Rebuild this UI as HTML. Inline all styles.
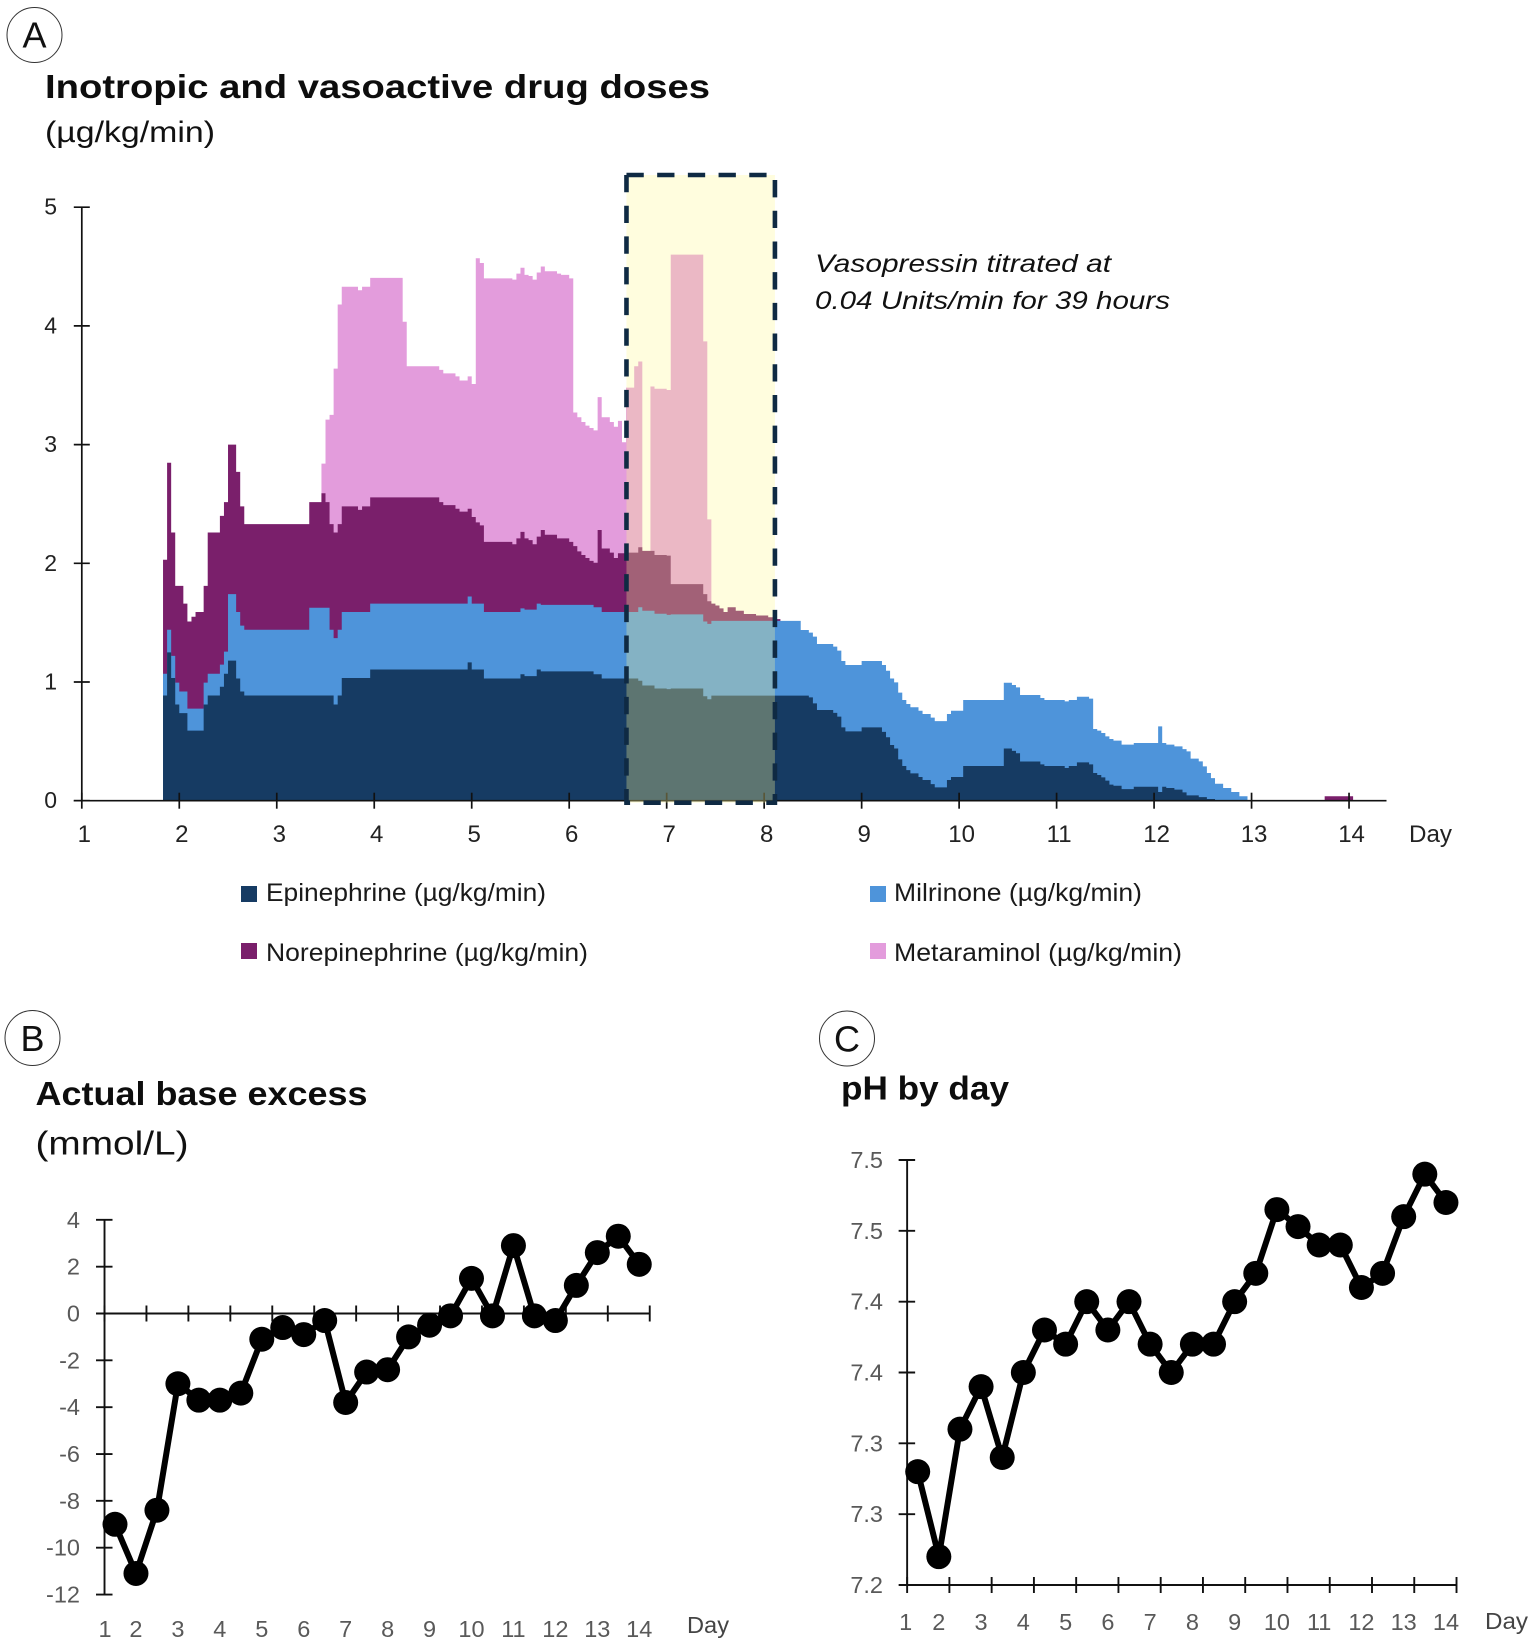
<!DOCTYPE html>
<html lang="en">
<head>
<meta charset="utf-8">
<title>Inotropic and vasoactive drug doses, base excess and pH by day</title>
<style>
  html, body { margin: 0; padding: 0; background: #ffffff; }
  svg { display: block; font-family: "Liberation Sans", sans-serif; }
  .panel-letter { font-size: 36px; fill: #111; text-anchor: middle; }
  .panel-circle { fill: none; stroke: #333; stroke-width: 1; }
  .title { font-size: 33px; font-weight: bold; fill: #0d0d0d; }
  .subtitle { font-size: 30px; fill: #111; }
  .legend-text { font-size: 25px; fill: #1a1a1a; }
  .note { font-size: 25px; font-style: italic; fill: #111; }
  .day { font-size: 24px; fill: #222; }
  .day-grey { font-size: 23px; fill: #444; }
</style>
</head>
<body>
<svg id="figure" xmlns="http://www.w3.org/2000/svg" width="1535" height="1644" viewBox="0 0 1535 1644">
  <g>
    <circle class="panel-circle" cx="34.5" cy="35" r="27.5"></circle>
    <text class="panel-letter" x="34.5" y="47.5">A</text>
    <text class="title" x="45" y="98" textLength="665" lengthAdjust="spacingAndGlyphs">Inotropic and vasoactive drug doses</text>
    <text class="subtitle" x="45" y="142" textLength="170" lengthAdjust="spacingAndGlyphs">(µg/kg/min)</text>
  </g>
  <g id="chart-a"></g>
  <g>
    <text class="note" x="815" y="272" textLength="296" lengthAdjust="spacingAndGlyphs">Vasopressin titrated at</text>
    <text class="note" x="815" y="309" textLength="355" lengthAdjust="spacingAndGlyphs">0.04 Units/min for 39 hours</text>
  </g>
  <text class="day" x="1409" y="842" textLength="43" lengthAdjust="spacingAndGlyphs">Day</text>
  <g>
    <g>
      <rect x="241" y="886" width="16" height="16" fill="#163b63"></rect>
      <text class="legend-text" x="266" y="901" textLength="280" lengthAdjust="spacingAndGlyphs">Epinephrine (µg/kg/min)</text>
    </g>
    <g>
      <rect x="241" y="943" width="16" height="16" fill="#7a1f6b"></rect>
      <text class="legend-text" x="266" y="961" textLength="322" lengthAdjust="spacingAndGlyphs">Norepinephrine (µg/kg/min)</text>
    </g>
    <g>
      <rect x="870" y="886" width="16" height="16" fill="#4e94da"></rect>
      <text class="legend-text" x="894" y="901" textLength="248" lengthAdjust="spacingAndGlyphs">Milrinone (µg/kg/min)</text>
    </g>
    <g>
      <rect x="870" y="943" width="16" height="16" fill="#e39cdc"></rect>
      <text class="legend-text" x="894" y="961" textLength="288" lengthAdjust="spacingAndGlyphs">Metaraminol (µg/kg/min)</text>
    </g>
  </g>

  <g>
    <circle class="panel-circle" cx="32.5" cy="1038" r="27.5"></circle>
    <text class="panel-letter" x="32.5" y="1051">B</text>
    <text class="title" x="35.5" y="1105" textLength="332" lengthAdjust="spacingAndGlyphs">Actual base excess</text>
    <text class="subtitle" x="35.5" y="1154.5" textLength="153" lengthAdjust="spacingAndGlyphs" style="font-size:33px">(mmol/L)</text>
  </g>
  <g id="chart-b"></g>
  <text class="day-grey" x="687" y="1633" textLength="42" lengthAdjust="spacingAndGlyphs">Day</text>

  <g>
    <circle class="panel-circle" cx="847" cy="1038.5" r="27.5"></circle>
    <text class="panel-letter" x="847" y="1051.5">C</text>
    <text class="title" x="841" y="1099.5" textLength="168" lengthAdjust="spacingAndGlyphs">pH by day</text>
  </g>
  <g id="chart-c"></g>
  <text class="day-grey" x="1485" y="1629" textLength="43" lengthAdjust="spacingAndGlyphs">Day</text>
</svg>

<script>
// ---- Panel A data: step series. Hours are counted from the start of day 2.
// Each "...Top" value is the height of that drug's upper edge in the stack (µg/kg/min);
// each step lasts until the next hour in the list.
const epinephrineHours = [-4,-3,-2,-1,0,2,6,7,10,11,12,14,15,16,38,39,40,47,71,72,75,84,85,88,89,102,104,113,114,117,120,121,129,130,131,155,156,157,161,162,163,164,168,173,174,175,176,177,178,179,180,182,183,185,186,189,190,193,203,205,206,207,212,213,218,219,221,224,225,226,227,228,229,230,232,235,241,242,243,245,247,248,251,253,255];
const epinephrineTop = [.886,1.25,1.034,.81,.738,.59,.81,.886,.96,1.07,1.18,1.03,.92,.886,.81,.886,1.034,1.105,1.165,1.105,1.03,1.065,1.05,1.105,1.09,1.065,1.03,1.01,.97,.945,.94,.945,.88,.855,.885,.87,.82,.764,.74,.708,.618,.584,.618,.58,.534,.469,.44,.348,.292,.258,.23,.2,.174,.14,.112,.174,.2,.292,.44,.42,.4,.33,.306,.292,.275,.292,.323,.306,.233,.216,.197,.169,.135,.126,.098,.118,.073,.118,.107,.093,.07,.045,.03,.014,0];

const milrinoneHours = [-4,-3,-2,-1,0,2,6,7,10,11,12,14,15,16,32,37,38,39,40,47,71,72,75,84,85,88,89,102,104,113,114,117,120,121,129,130,131,153,155,156,157,161,162,163,164,168,173,174,175,176,177,178,179,180,182,183,185,186,189,190,193,203,205,206,207,212,213,218,219,221,224,225,226,227,228,229,230,232,235,241,242,243,245,247,248,249,251,252,253,254,255,257,259,261,263];
const milrinoneTop = [1.07,1.44,1.22,.995,.92,.776,.995,1.07,1.146,1.256,1.74,1.59,1.475,1.44,1.626,1.44,1.37,1.44,1.59,1.66,1.72,1.66,1.59,1.62,1.61,1.66,1.65,1.63,1.59,1.63,1.6,1.575,1.565,1.57,1.51,1.49,1.515,1.438,1.416,1.382,1.32,1.298,1.264,1.177,1.143,1.177,1.143,1.095,1.03,.997,.91,.848,.815,.787,.758,.73,.7,.67,.73,.758,.848,.994,.975,.955,.89,.865,.848,.837,.848,.876,.86,.604,.59,.57,.542,.52,.506,.472,.486,.626,.486,.472,.458,.435,.416,.354,.331,.289,.233,.19,.143,.107,.073,.037,0];

const norepinephrineHours = [-4,-3,-2,-1,1,2,3,4,6,7,10,11,12,14,15,16,32,35,36,37,38,39,40,44,45,47,64,65,68,69,71,72,73,74,75,82,83,84,85,86,87,88,89,90,93,96,97,98,99,100,101,102,103,104,106,107,108,110,113,114,117,120,121,129,130,131,132,133,134,135,137,139,142,145,147,148,282,289];
const norepinephrineTop = [2.03,2.847,2.26,1.81,1.66,1.51,1.55,1.59,1.81,2.26,2.4,2.515,3,2.77,2.48,2.33,2.515,2.59,2.515,2.33,2.26,2.33,2.48,2.45,2.48,2.555,2.515,2.49,2.46,2.435,2.46,2.39,2.345,2.32,2.18,2.16,2.21,2.265,2.21,2.195,2.16,2.225,2.28,2.24,2.21,2.18,2.145,2.1,2.07,2.045,2.02,2.005,2.28,2.125,2.09,2.045,2.085,2.09,2.135,2.105,2.07,2.065,1.825,1.74,1.68,1.66,1.645,1.62,1.59,1.63,1.6,1.573,1.56,1.545,1.53,0,.037,0];

const metaraminolHours = [35,36,37,38,39,40,44,45,47,55,56,64,65,68,69,71,72,73,74,75,82,83,84,85,86,87,88,89,90,93,94,96,97,98,99,100,101,102,103,104,106,107,108,109,110,112,113,114,116,117,120,121,129,130,131];
const metaraminolTop = [2.84,3.21,3.25,3.64,4.18,4.33,4.3,4.33,4.405,4.035,3.66,3.63,3.6,3.575,3.54,3.575,3.51,4.57,4.53,4.4,4.39,4.44,4.49,4.43,4.42,4.39,4.45,4.5,4.46,4.44,4.43,4.4,3.27,3.23,3.19,3.16,3.14,3.12,3.4,3.23,3.19,3.15,3.2,3.02,3.48,3.66,3.7,0,3.49,3.47,3.46,4.6,3.87,2.37,0];

const doseTicks = [0,1,2,3,4,5];
const doseDays = [1,2,3,4,5,6,7,8,9,10,11,12,13,14];
const highlightHours = [110.1,146.65];

// ---- Panel B data
const baseExcessValues = [-9,-11.1,-8.4,-3,-3.7,-3.7,-3.4,-1.1,-.6,-.9,-.3,-3.8,-2.5,-2.4,-1,-.5,-.1,1.5,-.1,2.9,-.1,-.3,1.2,2.6,3.3,2.1];
const baseExcessTicks = [4,2,0,-2,-4,-6,-8,-10,-12];

// ---- Panel C data
const phValues = [7.28,7.22,7.31,7.34,7.29,7.35,7.38,7.37,7.4,7.38,7.4,7.37,7.35,7.37,7.37,7.4,7.42,7.465,7.453,7.44,7.44,7.41,7.42,7.46,7.49,7.47];
const phTicks = [7.2,7.25,7.3,7.35,7.4,7.45,7.5];
const phTickLabels = ["7.2","7.3","7.3","7.4","7.4","7.5","7.5"];

// ---- Shared day labels for B and C: category slot under which each day is printed
const lineDayLabels = ["2","3","4","5","6","7","8","9","10","11","12","13","14"];
const lineDaySlots = [1,3,5,7,9,11,13,15,17,19,21,23,25];

const SVG_NS = 'http://www.w3.org/2000/svg';
function make(parent, tag, attrs, text) {
  const el = document.createElementNS(SVG_NS, tag);
  for (const key in attrs) el.setAttribute(key, attrs[key]);
  if (text !== undefined) el.textContent = text;
  parent.appendChild(el);
  return el;
}

// ---- Panel A axes
const chartA = document.getElementById('chart-a');
const dayToX = d => 81.8 + (d - 1) * 97.48;
const hourToX = h => dayToX(2 + h / 24);
const doseToY = v => 800.7 - v * 118.7;

function stepPath(hours, tops) {
  let d = 'M' + hourToX(hours[0]).toFixed(2) + ' ' + doseToY(0).toFixed(2);
  for (let i = 0; i < hours.length - 1; i++) {
    const y = doseToY(tops[i]).toFixed(2);
    d += 'L' + hourToX(hours[i]).toFixed(2) + ' ' + y;
    d += 'L' + hourToX(hours[i + 1]).toFixed(2) + ' ' + y;
  }
  d += 'L' + hourToX(hours[hours.length - 1]).toFixed(2) + ' ' + doseToY(0).toFixed(2) + 'Z';
  return d;
}

const areaMet = make(chartA, 'path', { d: stepPath(metaraminolHours, metaraminolTop), fill: '#e39cdc' });


const areaNor = make(chartA, 'path', { d: stepPath(norepinephrineHours, norepinephrineTop), fill: '#7a1f6b' });


const areaMil = make(chartA, 'path', { d: stepPath(milrinoneHours, milrinoneTop), fill: '#4e94da' });


const areaEpi = make(chartA, 'path', { d: stepPath(epinephrineHours, epinephrineTop), fill: '#163b63' });



const yAxisA = make(chartA, 'line', { x1: dayToX(1), x2: dayToX(1), y1: doseToY(5), y2: doseToY(0), stroke: '#111', 'stroke-width': 1.7 });


const xAxisA = make(chartA, 'line', { x1: dayToX(1) - 8, x2: 1386.5, y1: doseToY(0), y2: doseToY(0), stroke: '#111', 'stroke-width': 1.7 });



doseTicks.forEach(v => {
  const tick = make(chartA, 'line', { x1: dayToX(1) - 8, x2: dayToX(1) + 8, y1: doseToY(v), y2: doseToY(v), stroke: '#111', 'stroke-width': 1.7 });
  
  
  const label = make(chartA, 'text', { x: 57, y: doseToY(v) + 7.5, 'text-anchor': 'end', 'font-size': 23, fill: '#222' }, String(v));
  
  
});
doseDays.forEach(d => {
  const tick = make(chartA, 'line', { x1: dayToX(d), x2: dayToX(d), y1: doseToY(0) - 8, y2: doseToY(0) + 8, stroke: '#111', 'stroke-width': 1.7 });
  
  
  const label = make(chartA, 'text', { x: dayToX(d) + 2.5, y: 842, 'text-anchor': 'middle', 'font-size': 24, fill: '#222' }, String(d));
  
  
});

const hlX1 = hourToX(highlightHours[0]);
const hlX2 = hourToX(highlightHours[1]);
const hlFill = make(chartA, 'rect', { x: hlX1, y: 175, width: hlX2 - hlX1, height: 627.7, fill: 'rgb(255,248,148)', 'fill-opacity': 0.305 });


const hlBorder = make(chartA, 'rect', { x: hlX1, y: 175, width: hlX2 - hlX1, height: 627.7, fill: 'none', stroke: '#0f2a43', 'stroke-width': 4.6, 'stroke-dasharray': '17.3 13.4' });



// ---- Line charts B and C
function drawLine(host, prefix, values, xOfSlot, yOf, axisY, firstLabelX, labelBaseline, axisX, yTop, yBottom, yTicks, yLabels, yLabelX) {
  const yAxis = make(host, 'line', { x1: axisX, x2: axisX, y1: yTop, y2: yBottom, stroke: '#111', 'stroke-width': 1.9 });
  
  
  const xAxis = make(host, 'line', { x1: axisX - 8, x2: xOfSlot(values.length - 0.5), y1: axisY, y2: axisY, stroke: '#111', 'stroke-width': 1.9 });
  
  

  yTicks.forEach((t, i) => {
    const y = yOf(t);
    const tick = make(host, 'line', { x1: axisX - 8.5, x2: axisX + 8, y1: y, y2: y, stroke: '#111', 'stroke-width': 1.9 });
    
    
    const label = make(host, 'text', { x: yLabelX, y: y + 8, 'text-anchor': 'end', 'font-size': 23.5, fill: '#595959' }, yLabels[i]);
    
    
  });
  for (let s = -0.5; s <= values.length - 0.5; s += 2) {
    const x = xOfSlot(s);
    const tick = make(host, 'line', { x1: x, x2: x, y1: axisY - 8, y2: axisY + 8, stroke: '#111', 'stroke-width': 1.9 });
    
    
  }
  const firstLabel = make(host, 'text', { x: firstLabelX, y: labelBaseline, 'text-anchor': 'middle', 'font-size': 23.5, fill: '#595959' }, '1');
  
  
  lineDayLabels.forEach((text, i) => {
    const label = make(host, 'text', { x: xOfSlot(lineDaySlots[i]), y: labelBaseline, 'text-anchor': 'middle', 'font-size': 23.5, fill: '#595959' }, text);
    
    
  });

  const points = values.map((v, i) => xOfSlot(i).toFixed(2) + ',' + yOf(v).toFixed(2)).join(' ');
  const line = make(host, 'polyline', { points: points, fill: 'none', stroke: '#000', 'stroke-width': 6, 'stroke-linejoin': 'round' });
  
  
  values.forEach((v, i) => {
    const dot = make(host, 'circle', { cx: xOfSlot(i), cy: yOf(v), r: 12.5, fill: '#000' });
    
    
  });
}

const slotToXB = s => 115 + s * 20.97;
const excessToY = v => 1313.5 - v * 23.42;
drawLine(document.getElementById('chart-b'), 'base-excess', baseExcessValues, slotToXB, excessToY,
  excessToY(0), 105, 1637, slotToXB(-0.5), excessToY(4), excessToY(-12),
  baseExcessTicks, baseExcessTicks.map(String), 80);

const slotToXC = s => 917.7 + s * 21.13;
const phToY = v => 1585 - (v - 7.2) * 1416.7;
drawLine(document.getElementById('chart-c'), 'ph', phValues, slotToXC, phToY,
  phToY(7.2), 905.7, 1630, slotToXC(-0.5), phToY(7.5), phToY(7.2),
  phTicks, phTickLabels, 883);
</script>
</body>
</html>
